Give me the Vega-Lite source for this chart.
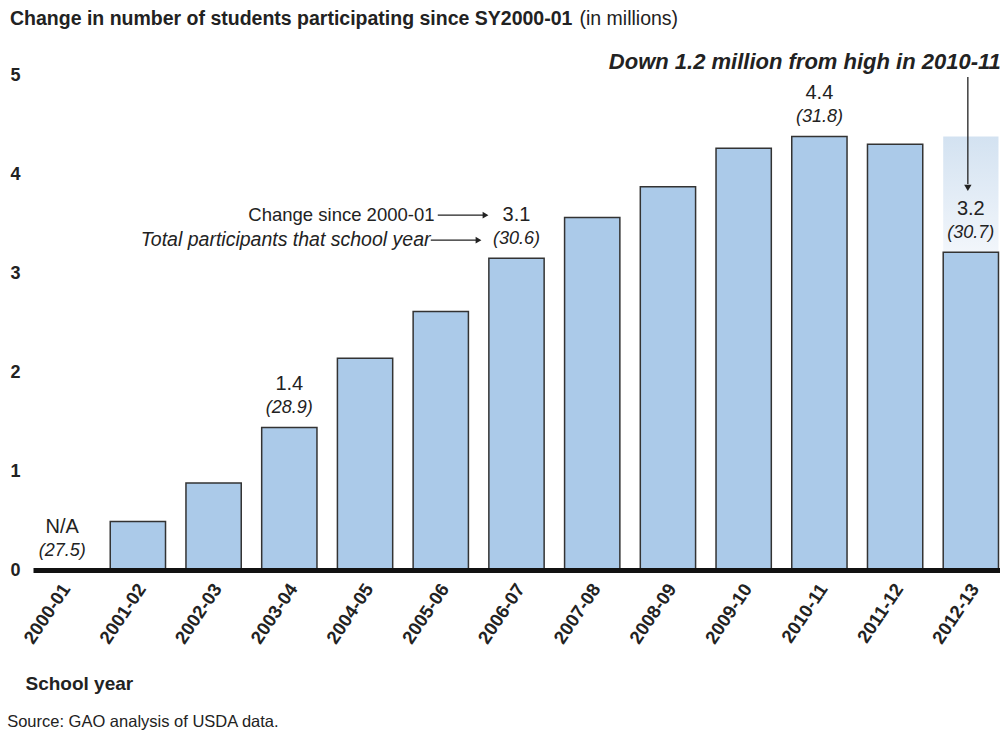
{
  "$schema": "https://vega.github.io/schema/vega-lite/v6.json",
  "autosize": "none",
  "width": 967,
  "height": 495,
  "padding": {"left": 33, "top": 75, "right": 0, "bottom": 164},
  "background": "white",
  "config": {"font": "Liberation Sans", "view": {"stroke": null}},
  "title": {
    "text": "Change in number of students participating since SY2000-01",
    "anchor": "start",
    "frame": "group",
    "fontSize": 19.5,
    "fontWeight": "bold",
    "color": "#222",
    "baseline": "middle",
    "dx": -23,
    "offset": -30
  },
  "datasets": {
    "bars": [
      {"year": "2000-01", "change": 0, "label": "N/A", "total": "(27.5)"},
      {"year": "2001-02", "change": 0.49, "label": null, "total": null},
      {"year": "2002-03", "change": 0.88, "label": null, "total": null},
      {"year": "2003-04", "change": 1.44, "label": "1.4", "total": "(28.9)"},
      {"year": "2004-05", "change": 2.14, "label": null, "total": null},
      {"year": "2005-06", "change": 2.61, "label": null, "total": null},
      {"year": "2006-07", "change": 3.15, "label": "3.1", "total": "(30.6)"},
      {"year": "2007-08", "change": 3.56, "label": null, "total": null},
      {"year": "2008-09", "change": 3.87, "label": null, "total": null},
      {"year": "2009-10", "change": 4.26, "label": null, "total": null},
      {"year": "2010-11", "change": 4.38, "label": "4.4", "total": "(31.8)"},
      {"year": "2011-12", "change": 4.30, "label": null, "total": null},
      {"year": "2012-13", "change": 3.21, "label": "3.2", "total": "(30.7)"}
    ]
  },
  "layer": [
    {
      "data": {"values": [{"year": "2012-13", "low": 3.21, "high": 4.38}]},
      "mark": {
        "type": "bar",
        "color": {"gradient": "linear", "x1": 0, "y1": 0, "x2": 0, "y2": 1,
          "stops": [{"offset": 0, "color": "#d3e2f1"}, {"offset": 1, "color": "#f2f6fb"}]}
      },
      "encoding": {
        "x": {"field": "year", "type": "nominal"},
        "y": {"field": "low", "type": "quantitative"},
        "y2": {"field": "high"}
      }
    },
    {
      "data": {"name": "bars"},
      "mark": {"type": "bar", "color": "#abcae9", "stroke": "#333333", "strokeWidth": 1.5},
      "encoding": {
        "x": {
          "field": "year", "type": "nominal", "sort": null,
          "scale": {"paddingInner": 0.27, "paddingOuter": 0.02},
          "axis": {
            "title": "School year",
            "titleFontSize": 19, "titleFontWeight": "bold", "titleColor": "#222",
            "titleAlign": "left", "titleBaseline": "middle", "titleAngle": 0,
            "titleX": -8, "titleY": 113,
            "labelAngle": -56, "labelAlign": "right", "labelBaseline": "middle",
            "labelFontSize": 18.5, "labelFontWeight": "bold", "labelColor": "#222",
            "labelPadding": 15, "labelOffset": 4,
            "ticks": false, "domainColor": "#111111", "domainWidth": 5,
            "zindex": 1
          }
        },
        "y": {
          "field": "change", "type": "quantitative",
          "scale": {"domain": [0, 5], "nice": false},
          "axis": {
            "values": [0, 1, 2, 3, 4, 5], "format": "d", "grid": false, "ticks": false, "domain": false,
            "labelFontSize": 18, "labelFontWeight": "bold", "labelColor": "#222",
            "labelPadding": 13,
            "title": "(in millions)", "titleAngle": 0, "titleAlign": "left",
            "titleBaseline": "middle", "titleX": 546, "titleY": -57,
            "titleFontSize": 19.5, "titleFontWeight": "normal", "titleColor": "#222"
          }
        }
      }
    },
    {
      "data": {"name": "bars"},
      "transform": [{"filter": "datum.label != null"}],
      "mark": {"type": "text", "fontSize": 20, "color": "#222", "dy": -43, "baseline": "middle"},
      "encoding": {
        "x": {"field": "year", "type": "nominal", "sort": null},
        "y": {"field": "change", "type": "quantitative"},
        "text": {"field": "label"}
      }
    },
    {
      "data": {"name": "bars"},
      "transform": [{"filter": "datum.total != null"}],
      "mark": {"type": "text", "fontSize": 18, "fontStyle": "italic", "color": "#222", "dy": -19, "baseline": "middle"},
      "encoding": {
        "x": {"field": "year", "type": "nominal", "sort": null},
        "y": {"field": "change", "type": "quantitative"},
        "text": {"field": "total"}
      }
    },
    {
      "data": {"values": [{"year": "2006-07", "v": 3.15, "txt": "Change since 2000-01"}]},
      "mark": {"type": "text", "fontSize": 18.5, "color": "#222", "align": "right", "baseline": "middle", "dx": -82, "dy": -43},
      "encoding": {
        "x": {"field": "year", "type": "nominal"},
        "y": {"field": "v", "type": "quantitative"},
        "text": {"field": "txt"}
      }
    },
    {
      "data": {"values": [{"year": "2006-07", "v": 3.15, "txt": "Total participants that school year"}]},
      "mark": {"type": "text", "fontSize": 19.5, "fontStyle": "italic", "color": "#222", "align": "right", "baseline": "middle", "dx": -86, "dy": -18},
      "encoding": {
        "x": {"field": "year", "type": "nominal"},
        "y": {"field": "v", "type": "quantitative"},
        "text": {"field": "txt"}
      }
    },
    {
      "data": {"values": [{"from": "2005-06", "to": "2006-07", "v": 3.15}]},
      "mark": {"type": "rule", "color": "#222", "strokeWidth": 1.3, "yOffset": -43, "xOffset": -3, "x2Offset": -30},
      "encoding": {
        "x": {"field": "from", "type": "nominal"},
        "x2": {"field": "to"},
        "y": {"field": "v", "type": "quantitative"}
      }
    },
    {
      "data": {"values": [{"from": "2005-06", "to": "2006-07", "v": 3.15}]},
      "mark": {"type": "rule", "color": "#222", "strokeWidth": 1.3, "yOffset": -18, "xOffset": -10, "x2Offset": -37},
      "encoding": {
        "x": {"field": "from", "type": "nominal"},
        "x2": {"field": "to"},
        "y": {"field": "v", "type": "quantitative"}
      }
    },
    {
      "data": {"values": [{"year": "2006-07", "v": 3.15}]},
      "mark": {"type": "point", "shape": "triangle-right", "filled": true, "color": "#222", "size": 45, "opacity": 1, "xOffset": -31, "yOffset": -43},
      "encoding": {
        "x": {"field": "year", "type": "nominal"},
        "y": {"field": "v", "type": "quantitative"}
      }
    },
    {
      "data": {"values": [{"year": "2006-07", "v": 3.15}]},
      "mark": {"type": "point", "shape": "triangle-right", "filled": true, "color": "#222", "size": 45, "opacity": 1, "xOffset": -38, "yOffset": -18},
      "encoding": {
        "x": {"field": "year", "type": "nominal"},
        "y": {"field": "v", "type": "quantitative"}
      }
    },
    {
      "data": {"values": [{"year": "2012-13", "top": 4.98, "bottom": 3.9}]},
      "mark": {"type": "rule", "color": "#222", "strokeWidth": 1.3, "xOffset": -3},
      "encoding": {
        "x": {"field": "year", "type": "nominal"},
        "y": {"field": "top", "type": "quantitative"},
        "y2": {"field": "bottom"}
      }
    },
    {
      "data": {"values": [{"year": "2012-13", "v": 3.86}]},
      "mark": {"type": "point", "shape": "triangle-down", "filled": true, "color": "#222", "size": 55, "opacity": 1, "xOffset": -3},
      "encoding": {
        "x": {"field": "year", "type": "nominal"},
        "y": {"field": "v", "type": "quantitative"}
      }
    },
    {
      "data": {"values": [{"year": "2012-13", "v": 5.13, "txt": "Down 1.2 million from high in 2010-11"}]},
      "mark": {"type": "text", "fontSize": 22, "fontWeight": "bold", "fontStyle": "italic", "color": "#222", "align": "right", "baseline": "middle", "dx": 30},
      "encoding": {
        "x": {"field": "year", "type": "nominal"},
        "y": {"field": "v", "type": "quantitative"},
        "text": {"field": "txt"}
      }
    },
    {
      "data": {"values": [{"year": "2000-01", "v": -1.535, "txt": "Source: GAO analysis of USDA data."}]},
      "mark": {"type": "text", "fontSize": 16.5, "color": "#222", "align": "left", "baseline": "middle", "dx": -55},
      "encoding": {
        "x": {"field": "year", "type": "nominal"},
        "y": {"field": "v", "type": "quantitative"},
        "text": {"field": "txt"}
      }
    }
  ]
}
